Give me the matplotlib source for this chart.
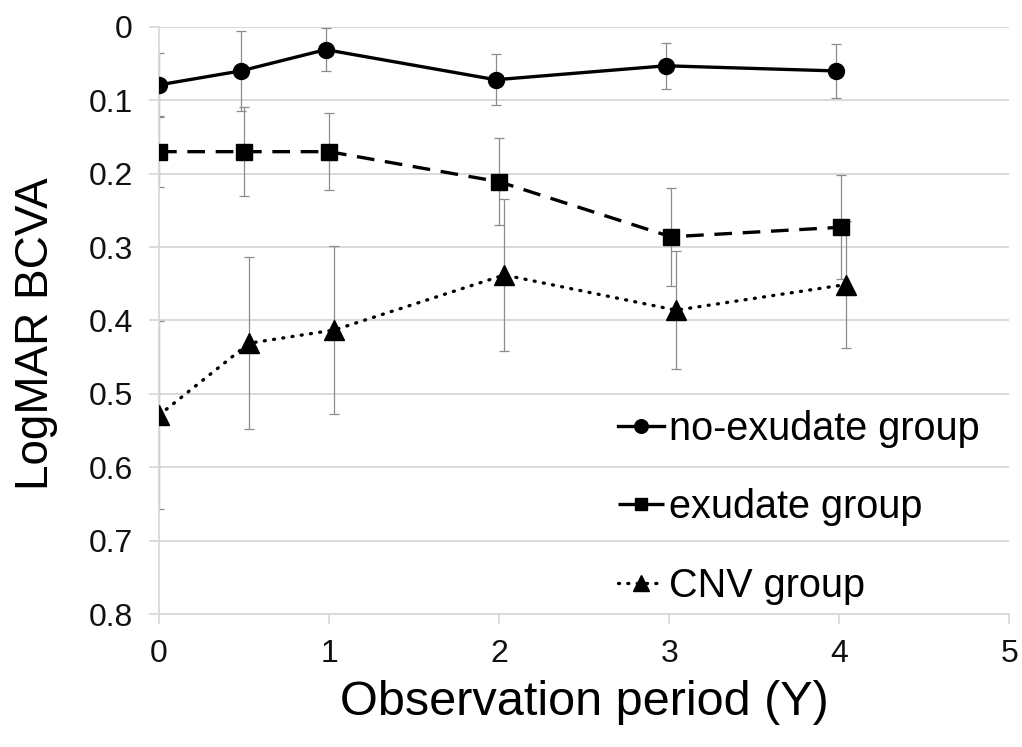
import matplotlib
matplotlib.use("Agg")
import matplotlib.pyplot as plt

plt.rcParams['font.family'] = ['Liberation Sans', 'DejaVu Sans']

# data (x slightly offset per series, as in the original)
no_exu_x = [0.0, 0.48, 0.98, 1.98, 2.98, 3.98]
no_exu_y = [0.079, 0.060, 0.031, 0.072, 0.053, 0.060]
no_exu_err = [0.044, 0.055, 0.029, 0.035, 0.031, 0.037]

exu_x = [0.0, 0.50, 1.00, 2.00, 3.01, 4.01]
exu_y = [0.170, 0.170, 0.170, 0.211, 0.286, 0.273]
exu_err = [0.048, 0.061, 0.052, 0.059, 0.067, 0.071]

cnv_x = [0.0, 0.53, 1.03, 2.03, 3.04, 4.04]
cnv_y = [0.529, 0.431, 0.413, 0.338, 0.386, 0.351]
cnv_err = [0.128, 0.117, 0.115, 0.104, 0.080, 0.086]

labels = ["no-exudate group", "exudate group", "CNV group"]
y_ticks = [0, 0.1, 0.2, 0.3, 0.4, 0.5, 0.6, 0.7, 0.8]
y_tick_labels = ["0", "0.1", "0.2", "0.3", "0.4", "0.5", "0.6", "0.7", "0.8"]
x_ticks = [0, 1, 2, 3, 4, 5]

fig = plt.figure(figsize=(10.22, 7.47), dpi=100)
ax = fig.add_axes([0.1556, 0.178, 0.832, 0.786])

grid_col = "#d9d9d9"
err_col = "#8c8c8c"

series = [
    (no_exu_x, no_exu_y, no_exu_err, "o", "-", 11.5),
    (exu_x, exu_y, exu_err, "s", (0, (5.3, 3.2)), 11),
    (cnv_x, cnv_y, cnv_err, "^", (0, (0.3, 2.5)), 14),
]

handles = []
for (x, y, e, m, ls, ms), lab in zip(series, labels):
    ax.errorbar(x, y, yerr=e, fmt="none", ecolor=err_col, elinewidth=0.9,
                capsize=3.5, capthick=0.9, zorder=2)
    ln, = ax.plot(x, y, color="black", linestyle=ls, linewidth=2.4,
                  marker=m, markersize=ms, markeredgecolor="black",
                  markerfacecolor="black", zorder=3,
                  dash_capstyle="round" if m == "^" else "butt", label=lab)
    handles.append(ln)

ax.set_xlim(0, 5)
ax.set_ylim(0.8, 0)
ax.set_yticks(y_ticks)
ax.set_yticklabels(y_tick_labels)
ax.set_xticks(x_ticks)
ax.tick_params(axis="both", labelsize=23, colors=grid_col, labelcolor="#111111",
               length=7, width=1.3, direction="out")
ax.tick_params(axis="x", pad=11)
ax.tick_params(axis="y", pad=12)

ax.yaxis.grid(True, color=grid_col, linewidth=1.4)
ax.set_axisbelow(True)
for s in ["top", "right"]:
    ax.spines[s].set_visible(False)
ax.spines["left"].set_color(grid_col)
ax.spines["bottom"].set_color(grid_col)
ax.spines["left"].set_linewidth(1.3)
ax.spines["bottom"].set_linewidth(1.3)

ax.set_ylabel("LogMAR BCVA", fontsize=33)
ax.yaxis.set_label_coords(-0.119, 0.477)
ax.set_xlabel("Observation period (Y)", fontsize=35, labelpad=8)

ax.legend(handles=handles, labels=labels, loc="upper left",
          bbox_to_anchor=(0.517, 0.382), frameon=False, fontsize=28.5,
          handlelength=1.15, handletextpad=0.12, labelspacing=1.03,
          markerscale=0.85, borderpad=0)

fig.savefig("out.png", dpi=100)
